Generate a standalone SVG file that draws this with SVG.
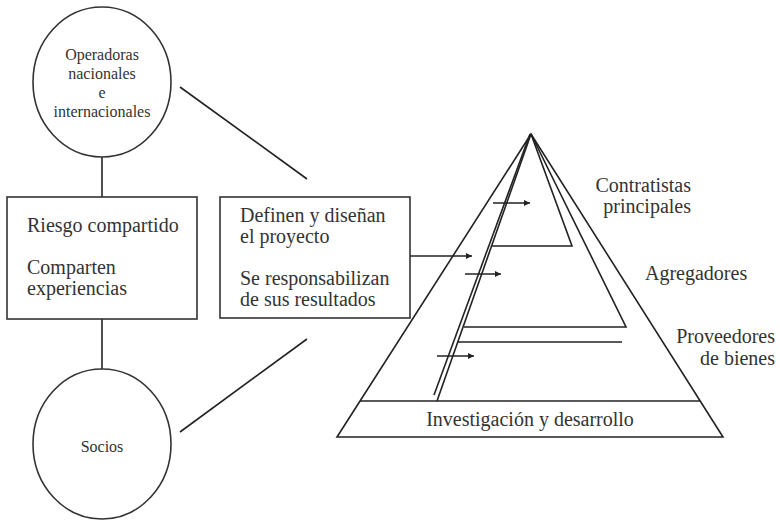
<svg xmlns="http://www.w3.org/2000/svg" width="780" height="520" viewBox="0 0 780 520" font-family="'Liberation Serif', 'DejaVu Serif', serif">
  <style>
    .ln { stroke: #222; stroke-width: 1.6; fill: none; }
    .bx { stroke: #333; stroke-width: 1.6; fill: #fff; }
    .t { font-family: 'Liberation Serif', 'DejaVu Serif', serif; fill: #333; }
    .s16 { font-size: 16px; }
    .s20 { font-size: 20px; }
    .mid { text-anchor: middle; }
    .end { text-anchor: end; }
  </style>
  <defs>
    <marker id="ah" viewBox="0 0 10 10" refX="10" refY="5" markerWidth="8" markerHeight="6" markerUnits="userSpaceOnUse" orient="auto">
      <path d="M0,0 L10,5 L0,10 z" fill="#222"/>
    </marker>
  </defs>
  <rect width="780" height="520" fill="#fff"/>

  <g id="connectors">
    <line class="ln" x1="102" y1="157" x2="102" y2="197"/>
    <line class="ln" x1="102" y1="319" x2="102" y2="369"/>
    <line class="ln" x1="180" y1="87" x2="307" y2="179"/>
    <line class="ln" x1="180" y1="432" x2="307" y2="339"/>
    <line class="ln" x1="410" y1="256" x2="472" y2="256" marker-end="url(#ah)"/>
  </g>

  <g id="operadoras">
    <ellipse class="bx" cx="102" cy="82" rx="69" ry="75"/>
    <text class="t s16 mid" x="102" y="60">Operadoras</text>
    <text class="t s16 mid" x="102" y="79">nacionales</text>
    <text class="t s16 mid" x="102" y="98">e</text>
    <text class="t s16 mid" x="102" y="117">internacionales</text>
  </g>

  <g id="riesgo">
    <rect class="bx" x="7" y="197" width="190" height="122"/>
    <text class="t s20" x="27" y="232">Riesgo compartido</text>
    <text class="t s20" x="27" y="274">Comparten</text>
    <text class="t s20" x="27" y="295">experiencias</text>
  </g>

  <g id="socios">
    <ellipse class="bx" cx="102" cy="444" rx="69" ry="75"/>
    <text class="t s16 mid" x="102" y="452">Socios</text>
  </g>

  <g id="definen">
    <rect class="bx" x="220" y="197" width="190" height="121"/>
    <text class="t s20" x="240" y="222">Definen y diseñan</text>
    <text class="t s20" x="240" y="243">el proyecto</text>
    <text class="t s20" x="240" y="285">Se responsabilizan</text>
    <text class="t s20" x="240" y="306">de sus resultados</text>
  </g>

  <g id="piramide">
    <polygon class="ln" points="531,134 337,437 723,437"/>
    <line class="ln" x1="360" y1="401" x2="700" y2="401"/>
    <line class="ln" x1="531" y1="134" x2="437" y2="401"/>
    <line class="ln" x1="530" y1="134" x2="434" y2="395"/>
    <polyline class="ln" points="531,134 572,246 492,246"/>
    <polyline class="ln" points="531,134 626,327 464,327"/>
    <line class="ln" x1="458" y1="342" x2="622" y2="342"/>
    <line class="ln" x1="493" y1="203" x2="530" y2="203" marker-end="url(#ah)"/>
    <line class="ln" x1="465" y1="274" x2="501" y2="274" marker-end="url(#ah)"/>
    <line class="ln" x1="437" y1="356" x2="474" y2="356" marker-end="url(#ah)"/>
    <text class="t s20 mid" x="530" y="426">Investigación y desarrollo</text>
  </g>

  <g id="contratistas">
    <text class="t s20 end" x="691" y="192">Contratistas</text>
    <text class="t s20 end" x="691" y="213">principales</text>
  </g>
  <g id="agregadores">
    <text class="t s20" x="645" y="280">Agregadores</text>
  </g>
  <g id="proveedores">
    <text class="t s20 end" x="775" y="343">Proveedores</text>
    <text class="t s20 end" x="775" y="365">de bienes</text>
  </g>
</svg>
